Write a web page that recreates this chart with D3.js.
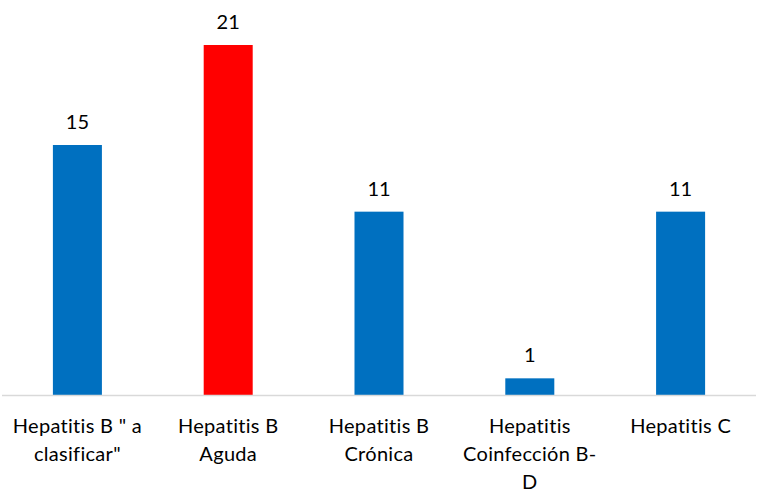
<!DOCTYPE html>
<html><head><meta charset="utf-8">
<script src="https://cdn.jsdelivr.net/npm/d3@7"></script>
<style>body{margin:0;background:#fff;} text{font-family:Lato,"Open Sans",sans-serif;fill:#000;}</style>
</head><body>
<svg id="c" width="761" height="492"></svg>
<script>
const categories = ["Hepatitis B \" a clasificar\"", "Hepatitis B Aguda", "Hepatitis B Crónica", "Hepatitis Coinfección B-D", "Hepatitis C"];
const tickLines = [["Hepatitis B \" a", "clasificar\""], ["Hepatitis B", "Aguda"], ["Hepatitis B", "Crónica"], ["Hepatitis", "Coinfección B-", "D"], ["Hepatitis C"]];
const values = [15, 21, 11, 1, 11];
const colors = ["#0070C0", "#FF0000", "#0070C0", "#0070C0", "#0070C0"];

const svg = d3.select("#c");
const baseY = 395;
const x = d3.scaleBand().domain(categories).range([2, 756]).paddingInner(0.675).paddingOuter(0.3375);
const y = d3.scaleLinear().domain([0, 21]).range([baseY, 45]);

svg.selectAll("rect.bar").data(values).join("rect")
  .attr("class", "bar")
  .attr("x", (d, i) => x(categories[i]))
  .attr("width", x.bandwidth())
  .attr("y", d => y(d))
  .attr("height", d => baseY - y(d))
  .attr("fill", (d, i) => colors[i]);

svg.append("line").attr("x1", 2).attr("x2", 756).attr("y1", baseY + 0.5).attr("y2", baseY + 0.5)
  .attr("stroke", "#d9d9d9").attr("stroke-width", 1.5);

svg.selectAll("text.val").data(values).join("text")
  .attr("class", "val")
  .attr("x", (d, i) => x(categories[i]) + x.bandwidth() / 2)
  .attr("y", d => y(d) - 16)
  .attr("text-anchor", "middle")
  .attr("font-size", 20)
  .text(d => d);

const g = svg.selectAll("g.tick").data(categories).join("g")
  .attr("class", "tick")
  .attr("transform", d => `translate(${x(d) + x.bandwidth() / 2},0)`);
g.each(function(d, i) {
  const t = d3.select(this).append("text").attr("text-anchor", "middle").attr("font-size", 20).attr("letter-spacing", 0.3);
  tickLines[i].forEach((ln, j) => {
    t.append("tspan").attr("x", 0).attr("y", 433 + j * 28).text(ln);
  });
});
</script>
</body></html>
